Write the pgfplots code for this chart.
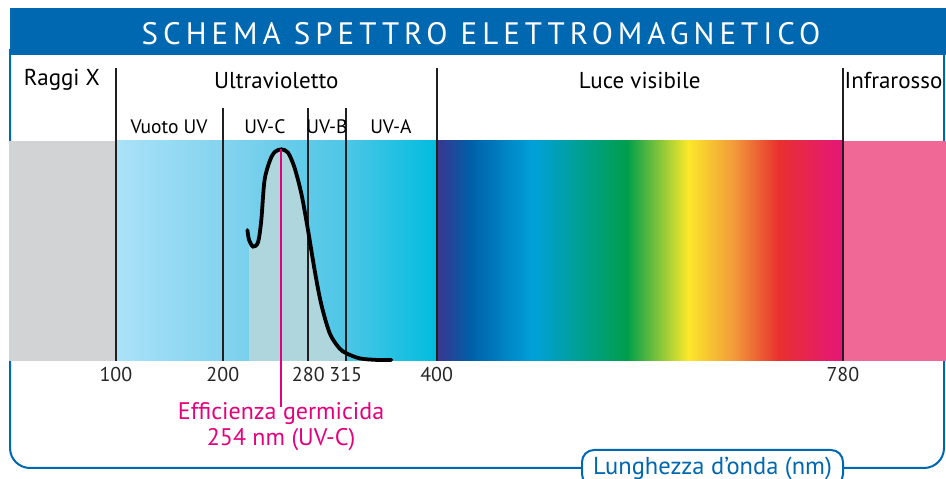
\documentclass[border=0pt]{standalone}
\usepackage{pgfplots}
\pgfplotsset{compat=1.18}
\usepackage{fontspec}
\setmainfont{PT Sans}
\newfontfamily\titlefont[LetterSpace=16]{PT Sans}
\definecolor{frameblue}{HTML}{0067B1}
\definecolor{xgray}{HTML}{D1D3D4}
\definecolor{uva}{HTML}{AAE2F9}
\definecolor{uvb}{HTML}{84D3EE}
\definecolor{uvc}{HTML}{4DC6E6}
\definecolor{uvd}{HTML}{00BCDF}
\definecolor{curvefill}{HTML}{AED6DC}
\definecolor{irpink}{HTML}{F06896}
\definecolor{germpink}{HTML}{E5007D}
\definecolor{sepcol}{HTML}{231F20}
\definecolor{v1}{HTML}{3B3590}
\definecolor{v2}{HTML}{005FA8}
\definecolor{v3}{HTML}{00A1DA}
\definecolor{v4}{HTML}{009E4B}
\definecolor{v5}{HTML}{FBE82A}
\definecolor{v6}{HTML}{F29A3A}
\definecolor{v7}{HTML}{E8302F}
\definecolor{v8}{HTML}{E5167A}
\begin{document}
\begin{tikzpicture}[x=1pt,y=1pt]
\useasboundingbox (0,0) rectangle (946,479);
\fill[frameblue] (10,424) rectangle (946,471);
\node[text=white, font=\titlefont\fontsize{31}{31}\selectfont] at (481,445.5) {SCHEMA SPETTRO ELETTROMAGNETICO};
\draw[frameblue, line width=2pt, rounded corners=20pt] (10,430) -- (10,11) -- (944,11) -- (944,430);
\begin{axis}[
  at={(9pt,118pt)}, anchor=south west,
  scale only axis, width=937pt, height=220pt,
  xmin=0, xmax=876.5, ymin=0, ymax=1,
  clip=false,
  axis line style={draw=none},
  ytick=\empty,
  xtick={100,200,280,315,400,780},
  major tick length=0pt,
  xticklabel style={font=\fontsize{20}{20}\selectfont, text=black!85, yshift=-3pt},
  /pgf/number format/assume math mode=true,
  /pgf/number format/1000 sep={},
]
% bands
\addplot[draw=none, fill=xgray] coordinates {(0,1)(100.2,1)} \closedcycle;
\addplot[draw=none, left color=uva, right color=uvb] coordinates {(100,1)(200.3,1)} \closedcycle;
\addplot[draw=none, left color=uvb, right color=uvc] coordinates {(200,1)(315.3,1)} \closedcycle;
\addplot[draw=none, left color=uvc, right color=uvd] coordinates {(315,1)(400.3,1)} \closedcycle;
\addplot[draw=none, left color=v1, right color=v2] coordinates {(400,1)(431.3,1)} \closedcycle;
\addplot[draw=none, left color=v2, right color=v3] coordinates {(431,1)(490.3,1)} \closedcycle;
\addplot[draw=none, left color=v3, right color=v4] coordinates {(490,1)(578.3,1)} \closedcycle;
\addplot[draw=none, left color=v4, right color=v5] coordinates {(578,1)(635.3,1)} \closedcycle;
\addplot[draw=none, left color=v5, right color=v6] coordinates {(635,1)(678.3,1)} \closedcycle;
\addplot[draw=none, left color=v6, right color=v7] coordinates {(678,1)(720.3,1)} \closedcycle;
\addplot[draw=none, left color=v7, right color=v8] coordinates {(720,1)(780.3,1)} \closedcycle;
\addplot[draw=none, fill=irpink] coordinates {(780,1)(876.5,1)} \closedcycle;
% germicidal fill
\addplot[draw=none, fill=curvefill, smooth, tension=0.5] coordinates {
(224.6,0.55)(228.3,0.52)(233,0.54)(236,0.64)(239,0.82)(244,0.91)(248.6,0.95)(254.8,0.962)(261,0.947)(267,0.88)(273.5,0.76)(279.7,0.595)(286,0.41)(292,0.26)(300,0.126)(309,0.058)(315.6,0.035)} \closedcycle;
% separators
\addplot[draw=sepcol, line width=2.2pt] coordinates {(100,0)(100,1.332)};
\addplot[draw=sepcol, line width=2.2pt] coordinates {(400,0)(400,1.332)};
\addplot[draw=sepcol, line width=2.2pt] coordinates {(780,0)(780,1.332)};
\addplot[draw=sepcol, line width=2pt] coordinates {(200,0)(200,1.15)};
\addplot[draw=sepcol, line width=2pt] coordinates {(280,0)(280,1.15)};
\addplot[draw=sepcol, line width=2pt] coordinates {(315,0)(315,1.15)};
% curve
\addplot[draw=black, line width=3.8pt, smooth, tension=0.5, line cap=round] coordinates {
(223,0.595)(224.6,0.55)(228.3,0.52)(233,0.54)(236,0.64)(239,0.82)(244,0.91)(248.6,0.95)(254.8,0.962)(261,0.947)(267,0.88)(273.5,0.76)(279.7,0.595)(286,0.41)(292,0.26)(300,0.126)(309,0.058)(315.6,0.035)(328,0.012)(343.6,0.005)(357.7,0.005)};
% germicidal marker
\addplot[color=germpink, line width=2.2pt] coordinates {(254.8,0.962)(254.8,-0.21)};
% labels
\node[font=\fontsize{23}{23}\selectfont] at (axis cs:49.5,1.277) {Raggi X};
\node[font=\fontsize{23}{23}\selectfont] at (axis cs:250,1.277) {Ultravioletto};
\node[font=\fontsize{23}{23}\selectfont] at (axis cs:590,1.277) {Luce visibile};
\node[font=\fontsize{23}{23}\selectfont, anchor=west, inner sep=0pt] at (axis cs:781.5,1.277) {Infrarosso};
\node[font=\fontsize{19.5}{19.5}\selectfont] at (axis cs:149.7,1.064) {Vuoto UV};
\node[font=\fontsize{19.5}{19.5}\selectfont] at (axis cs:239.4,1.064) {UV-C};
\node[font=\fontsize{19.5}{19.5}\selectfont] at (axis cs:297.4,1.064) {UV-B};
\node[font=\fontsize{19.5}{19.5}\selectfont] at (axis cs:357.2,1.064) {UV-A};
\node[font=\fontsize{24}{24}\selectfont, text=germpink] at (axis cs:254.5,-0.241) {Efficienza germicida};
\node[font=\fontsize{24}{24}\selectfont, text=germpink] at (axis cs:254.5,-0.359) {254 nm (UV-C)};
\end{axis}
\node[draw=frameblue, fill=white, line width=2pt, rounded corners=12pt, text=frameblue, minimum width=261pt, minimum height=36pt, inner sep=2pt, font=\fontsize{24.5}{24.5}\selectfont] at (712.5,11) {Lunghezza d’onda (nm)};
\end{tikzpicture}
\end{document}
